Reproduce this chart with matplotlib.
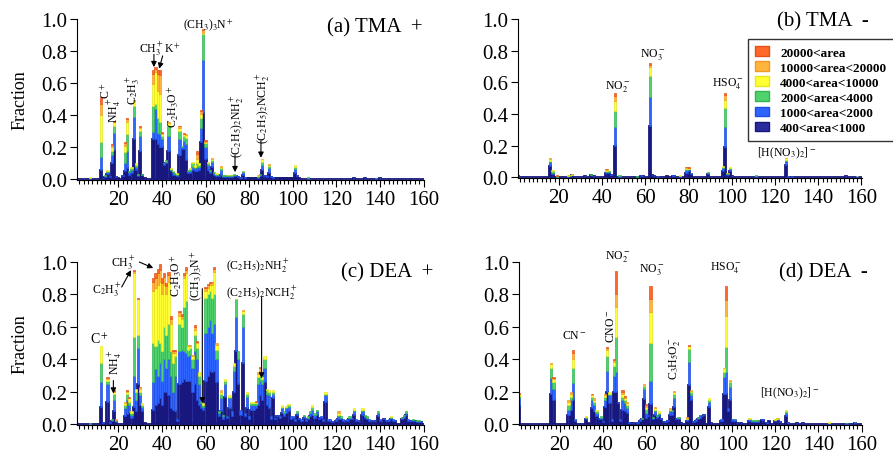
import numpy as np
import matplotlib.pyplot as plt
from matplotlib.patches import Patch
from matplotlib.ticker import FormatStrFormatter

plt.rcParams['font.family'] = ['Liberation Serif', 'DejaVu Serif']
plt.rcParams['mathtext.fontset'] = 'stix'

# area classes, smallest first (stacking order)
area_labels = ['400<area<1000', '1000<area<2000', '2000<area<4000',
               '4000<area<10000', '10000<area<20000', '20000<area']
fills = ['#2b2b9e', '#2f66ff', '#4fd26c', '#ffff33', '#ffb43c', '#ff6a2a']
edges = ['#17177e', '#1f4de0', '#33b552', '#e6e61e', '#f09a22', '#e4501a']

# each row: m/z, then cumulative fraction at the top of each area class
# (missing trailing classes are empty)
tma_pos = [
    (7, .004, .006, .008, .012), (12, .06, .14, .23, .40, .47, .515),
    (13, .008, .01), (14, .015, .02, .025), (15, .035, .045, .055, .06),
    (16, .015, .02), (17, .10, .15, .18, .20, .215, .222),
    (18, .185, .29, .335, .355, .36, .362), (19, .015, .02), (20, .008),
    (22, .02, .03), (23, .05, .10, .17, .21, .225, .235),
    (24, .07, .18, .28, .36, .375, .38), (25, .03, .045, .05),
    (26, .04, .06, .07, .075), (27, .25, .39, .46, .49, .495, .497),
    (28, .06, .08, .09, .10), (29, .02, .03, .035),
    (30, .18, .27, .30, .32, .325, .33), (31, .025, .03, .035), (32, .008),
    (36, .25, .295, .46, .594, .655, .68), (37, .25, .44, .47, .67, .69, .70),
    (38, .22, .29, .38, .55, .655, .68), (39, .20, .28, .36, .53, .65, .68),
    (40, .20, .25, .27, .285, .29, .295), (41, .09, .10, .105),
    (42, .10, .11, .12), (43, .18, .27, .33, .35, .355),
    (44, .05, .06, .065, .07), (45, .03, .045, .05, .055), (46, .03, .035, .04),
    (47, .02, .03, .035, .04), (48, .15, .25, .30, .32, .33, .335),
    (49, .19, .20, .205), (50, .19, .24, .27, .28, .285, .29),
    (51, .12, .22, .26, .275, .28), (52, .04, .05, .06),
    (53, .04, .055, .065, .07), (54, .06, .08, .10, .11), (55, .05, .07, .08, .09),
    (56, .05, .08, .10, .13, .16, .18), (57, .06, .08, .09, .10),
    (58, .23, .32, .38, .41, .425, .43), (59, .415, .745, .905, .915, .93, .935),
    (60, .13, .20, .225, .235, .24, .243), (61, .06, .09, .10, .11),
    (62, .04, .05, .06), (63, .08, .11, .12, .13, .133), (64, .03, .04, .045),
    (65, .02, .03, .035, .04), (66, .02, .03), (67, .03, .06, .07, .08, .085),
    (68, .015, .02, .025), (69, .015, .02, .025), (70, .015, .02, .025, .03),
    (71, .015, .02, .025, .03), (72, .015, .02, .025, .03), (73, .02, .03, .035),
    (74, .02, .025, .03), (75, .015, .02), (76, .01, .015),
    (77, .03, .045, .05, .055), (78, .01, .015), (79, .01), (80, .01), (81, .01),
    (82, .01), (83, .01), (84, .01, .015, .02, .025, .03), (85, .02, .03, .035),
    (86, .06, .09, .11, .125, .13), (87, .02, .03), (88, .015, .02),
    (89, .04, .07, .085, .09, .095), (90, .015, .02), (91, .01, .015),
    (92, .008), (93, .008), (94, .008), (95, .008), (96, .008), (97, .008),
    (98, .008), (99, .008), (100, .008), (101, .04, .065, .08, .09),
    (102, .02, .025), (103, .01), (107, .005, .008, .012), (128, .008, .01),
    (133, .008, .01), (138, .005, .007, .01), (140, .008, .01),
]

tma_neg = [
    (1, .008, .01), (16, .07, .095, .105, .115, .12), (17, .02, .03, .04, .045),
    (19, .003, .005, .007, .008, .01, .012), (24, .005, .008, .01, .015),
    (25, .008, .01, .012, .015), (26, .012, .015, .018, .02, .022),
    (32, .008, .01), (35, .012, .015, .02), (36, .008, .01),
    (42, .025, .035, .04, .045, .05, .052), (43, .025, .035, .04), (44, .015, .02),
    (46, .20, .32, .42, .48, .515, .53), (48, .005, .01, .015),
    (56, .003, .005, .007), (58, .01, .015), (59, .008, .01),
    (62, .325, .505, .64, .695, .71, .725), (63, .012, .015), (64, .008, .01),
    (66, .005, .008), (70, .008), (73, .01, .015), (76, .005, .008, .01, .012),
    (79, .03, .045, .055, .06, .065, .067), (80, .04, .05, .055, .06, .062, .065),
    (81, .02, .025, .03), (89, .02, .03, .035), (96, .04, .06, .065, .07),
    (97, .19, .32, .435, .49, .52, .53), (98, .015, .02, .025, .027, .03),
    (99, .04, .055, .06, .065), (100, .008, .01), (111, .005, .01, .015),
    (125, .08, .105, .11, .12, .122), (126, .005, .008), (128, .005, .008),
    (153, .008, .01), (158, .005, .007, .008, .01),
]

dea_pos = [
    (7, .002, .004, .006), (12, .11, .26, .375, .48), (13, .01, .015),
    (15, .14, .25, .27, .28, .285, .29), (16, .01, .015), (17, .02, .025, .03),
    (18, .085, .15, .185, .20, .205, .21), (19, .015, .02, .025, .027, .03),
    (20, .005), (23, .05, .10, .12, .13, .14), (24, .065, .15, .19, .20, .205, .21),
    (25, .07, .12, .14, .16, .165, .17), (26, .04, .06, .07, .08),
    (27, .11, .30, .54, .93, .945, .95), (28, .08, .15, .20, .22),
    (29, .25, .47, .55, .77, .775, .78), (30, .12, .18, .20, .22, .23, .232),
    (31, .08, .11, .12, .13), (32, .01),
    (36, .09, .26, .50, .82, .88, .90), (37, .12, .34, .48, .84, .90, .93),
    (38, .13, .30, .52, .86, .93, .96), (39, .16, .38, .50, .88, .95, .99),
    (40, .12, .27, .45, .80, .87, .90), (41, .20, .40, .60, .86, .91, .93),
    (42, .20, .35, .55, .80, .85, .87), (43, .18, .40, .62, .88, .92, .94),
    (44, .10, .30, .45, .62, .65, .67), (45, .09, .20, .38, .44, .45, .46),
    (46, .08, .30, .42, .44, .45, .46), (47, .02, .03),
    (48, .25, .45, .62, .67, .69, .70), (49, .26, .46, .60, .65, .67, .68),
    (50, .28, .45, .72, .90, .92, .93), (51, .27, .44, .76, .93, .95, .97),
    (52, .27, .42, .46, .48, .49), (53, .27, .43, .47, .48, .49),
    (54, .20, .35, .40, .42, .43), (55, .25, .45, .55, .58, .60, .61),
    (56, .15, .40, .47, .50, .51, .515), (57, .12, .25, .30, .32),
    (58, .10, .13, .14), (59, .09, .11, .12, .13),
    (60, .27, .56, .78, .82, .84, .845), (61, .30, .60, .80, .84, .86, .865),
    (62, .33, .64, .82, .86, .87, .875), (63, .32, .56, .78, .86, .875, .88),
    (64, .33, .62, .80, .94, .96, .97), (65, .26, .40, .46, .49, .50),
    (66, .05, .07, .08), (67, .08, .16, .19, .20, .21), (68, .03, .05, .06),
    (69, .17, .25, .27, .28), (70, .04, .05), (71, .10, .16, .17, .18),
    (72, .05, .08), (73, .20, .33, .36, .38), (74, .45, .66, .77, .775),
    (75, .25, .40, .45), (76, .06, .09), (77, .38, .60, .68, .70, .705),
    (78, .05, .07), (79, .10, .17, .19, .20), (80, .03, .05),
    (81, .09, .12, .13, .14), (82, .09, .12, .13, .14),
    (83, .10, .12, .13, .135, .14, .145), (84, .12, .25, .29, .31, .32),
    (85, .18, .27, .30, .33, .345, .355), (86, .15, .25, .28, .29),
    (87, .26, .35, .40, .42), (88, .12, .19, .21, .22), (89, .10, .18, .20, .21),
    (90, .03, .05), (91, .16, .19, .20, .21), (92, .03, .04), (93, .05, .06),
    (94, .04, .05), (95, .07, .10, .11, .12), (96, .05, .07, .08),
    (97, .07, .10, .11, .115), (98, .08, .11, .12, .125), (99, .03, .05),
    (100, .04, .05), (101, .02, .03), (102, .06, .07, .08), (103, .03, .04),
    (104, .02, .03), (105, .04, .05, .06), (106, .02, .03), (107, .03, .04, .05),
    (108, .05, .07, .08), (109, .06, .09, .11, .12), (110, .04, .06, .07),
    (111, .06, .08, .09), (112, .03, .04), (113, .04, .05), (114, .02, .03),
    (115, .14, .18, .19, .20), (116, .02, .03), (117, .02, .03), (118, .015, .02),
    (120, .02, .03), (121, .03, .05, .06, .07, .08), (122, .03, .04, .05),
    (123, .02, .03), (125, .02, .03), (126, .03, .04, .05), (127, .03, .04),
    (128, .06, .08, .09, .10), (129, .02, .03), (130, .02, .025),
    (132, .06, .08, .09, .10), (133, .04, .05, .06), (134, .03, .04, .05),
    (135, .02, .03), (137, .02, .025), (139, .05, .07, .08), (140, .02, .03),
    (142, .03, .04), (143, .02, .025), (144, .02, .03), (145, .03, .04, .045, .05),
    (146, .02, .03), (147, .02, .025), (150, .03, .04, .045), (151, .04, .05, .06),
    (152, .06, .07, .08), (153, .02, .03), (154, .02, .025), (155, .02, .025, .03),
    (156, .02, .025), (157, .015, .02, .025), (158, .015, .02, .025),
    (159, .015, .02),
]

dea_neg = [
    (1, .115, .16, .175, .185, .19, .195), (16, .185, .285, .35, .37, .38),
    (17, .15, .22, .26, .28, .285, .29), (24, .06, .09, .12, .14, .15),
    (25, .09, .15, .17, .19, .20), (26, .15, .255, .35, .405, .44, .455),
    (27, .02, .03, .035), (32, .03, .04, .045, .05), (33, .01),
    (35, .10, .15, .17, .18, .185, .19), (36, .08, .12, .14, .15, .16),
    (37, .05, .07, .08, .09), (38, .03, .04), (39, .03, .04, .05), (40, .015, .02),
    (41, .11, .15, .17, .18, .19), (42, .20, .33, .42, .46, .47, .475),
    (43, .13, .18, .19, .20), (44, .02, .03), (45, .20, .30, .36, .385, .395, .40),
    (46, .20, .32, .54, .72, .80, .947), (47, .13, .14), (48, .02, .03),
    (49, .09, .15, .17, .19, .20, .21), (50, .08, .13, .15, .165, .17, .175),
    (51, .07, .10, .12, .13, .14), (52, .01, .015), (53, .008, .01),
    (54, .008, .01), (56, .01, .015), (57, .02, .03), (58, .03, .035, .04),
    (59, .155, .215, .235, .245, .25), (60, .04, .07, .095, .11, .12, .125),
    (61, .05, .06), (62, .125, .265, .50, .69, .77, .85), (63, .03, .04, .045),
    (64, .06, .08, .09, .10, .105), (65, .04, .05, .06), (66, .05, .065, .07, .08),
    (67, .03, .04), (69, .015, .02), (70, .02, .025), (71, .06, .08, .09, .095, .10),
    (72, .06, .08, .09), (73, .105, .16, .19, .20, .205), (74, .03, .04),
    (75, .03, .04, .045), (76, .008, .01), (79, .02, .03, .035, .04, .045),
    (80, .245, .385, .465, .48, .485, .49), (81, .15, .18, .20, .205, .21),
    (82, .015, .02), (83, .02, .03), (84, .03, .04, .045), (85, .04, .055, .06),
    (86, .05, .06), (87, .055, .065), (89, .11, .14, .15, .16), (90, .008, .01),
    (95, .02, .03), (96, .19, .29, .325, .345, .35),
    (97, .19, .323, .476, .67, .763, .855), (98, .08, .10),
    (99, .15, .23, .26, .27, .275), (100, .02, .03), (101, .02, .03, .035),
    (102, .008, .01), (104, .008, .01), (108, .02, .03, .035, .04),
    (109, .015, .02, .025), (110, .015, .02, .025), (111, .015, .02, .025),
    (112, .015, .02, .025), (113, .02), (114, .025, .03), (116, .01, .015),
    (117, .02), (120, .02, .025, .028, .03), (121, .025, .03, .035, .038, .04),
    (122, .015, .02), (125, .05, .07, .08, .09), (126, .01, .015),
    (130, .008, .01), (133, .008, .01), (145, .005, .008, .01, .012),
    (153, .005, .008, .01), (157, .008, .012, .015),
]

mz_all = np.arange(1, 161)


def stack(rows):
    cum = np.zeros((len(mz_all), 6))
    for r in rows:
        tops = list(r[1:]) + [r[-1]] * (7 - len(r))
        cum[r[0] - 1] = tops
    return cum


def draw_spectrum(ax, rows):
    cum = stack(rows)
    prev = np.zeros(len(mz_all))
    for k in range(6):
        h = cum[:, k] - prev
        # the lowest class is drawn everywhere so empty m/z leave a baseline
        keep = np.ones(len(mz_all), bool) if k == 0 else h > 0
        ax.bar(mz_all[keep], h[keep], bottom=prev[keep], width=1.0,
               color=fills[k], edgecolor=edges[k],
               linewidth=1.3 if k == 0 else 0.5)
        prev = cum[:, k]


def style(ax):
    ax.set_xlim(1, 160.2)
    ax.set_ylim(-0.004, 1.0)
    ax.spines['top'].set_visible(False)
    ax.spines['right'].set_visible(False)
    ax.set_xticks(range(20, 161, 20))
    ax.set_xticks(range(2, 161, 2), minor=True)
    ax.set_yticks(np.arange(0, 1.01, 0.2))
    ax.yaxis.set_major_formatter(FormatStrFormatter('%.1f'))
    ax.tick_params(axis='both', which='major', labelsize=15, length=5,
                   width=0.8, pad=2)
    ax.tick_params(axis='x', which='minor', length=3, width=0.8)


def label(ax, x, y, s, rot=0, size=8.5):
    ax.text(x, y, s, rotation=rot, ha='center', va='center', fontsize=size)


def arrow(ax, tail, tip):
    ax.annotate('', xy=tip, xytext=tail,
                arrowprops=dict(arrowstyle='-|>', color='black', lw=0.8,
                                mutation_scale=8, shrinkA=0, shrinkB=0))


fig = plt.figure(figsize=(8.93, 4.6), dpi=100)
ax_a = fig.add_axes([0.0862, 0.6065, 0.3886, 0.35])
ax_b = fig.add_axes([0.5800, 0.6109, 0.3852, 0.3457])
ax_c = fig.add_axes([0.0862, 0.0739, 0.3886, 0.3543])
ax_d = fig.add_axes([0.5812, 0.0739, 0.3841, 0.3543])

for ax, rows in [(ax_a, tma_pos), (ax_b, tma_neg), (ax_c, dea_pos), (ax_d, dea_neg)]:
    draw_spectrum(ax, rows)
    style(ax)

for ax in (ax_a, ax_c):
    ax.set_ylabel('Fraction', fontsize=13, labelpad=9)

# panel titles
ax_a.text(0.997, 0.95, '(a) TMA  +', transform=ax_a.transAxes, ha='right', va='center', fontsize=15)
ax_b.text(1.02, 0.99, '(b) TMA  -', transform=ax_b.transAxes, ha='right', va='center', fontsize=15)
ax_c.text(1.026, 0.94, '(c) DEA  +', transform=ax_c.transAxes, ha='right', va='center', fontsize=15)
ax_d.text(1.017, 0.94, '(d) DEA  -', transform=ax_d.transAxes, ha='right', va='center', fontsize=15)

# (a) TMA positive ions
label(ax_a, 14.3, 0.56, r'C$^+$', rot=90)
label(ax_a, 18.1, 0.44, r'NH$_4^+$', rot=90)
label(ax_a, 26.8, 0.56, r'C$_2$H$_3^+$', rot=90)
label(ax_a, 45.2, 0.46, r'C$_2$H$_3$O$^+$', rot=90)
label(ax_a, 61.2, 0.965, r'(CH$_3$)$_3$N$^+$')
label(ax_a, 39.0, 0.82, r'CH$_3^+$K$^+$')
label(ax_a, 74.5, 0.34, r'(C$_2$H$_5$)$_2$NH$_2^+$', rot=90)
label(ax_a, 86.5, 0.45, r'(C$_2$H$_5$)$_2$NCH$_2^+$', rot=90)
arrow(ax_a, (36.3, 0.78), (36.3, 0.70))
arrow(ax_a, (40.3, 0.77), (38.7, 0.69))
arrow(ax_a, (73.5, 0.15), (73.5, 0.045))
arrow(ax_a, (85.4, 0.24), (85.4, 0.135))

# (b) TMA negative ions
label(ax_b, 47.4, 0.577, r'NO$_2^-$')
label(ax_b, 63.3, 0.78, r'NO$_3^-$')
label(ax_b, 98.2, 0.60, r'HSO$_4^-$')
label(ax_b, 125.5, 0.157, r'[H(NO$_3$)$_2$]$^-$')

# (c) DEA positive ions
label(ax_c, 11.5, 0.53, r'C$^+$', size=10)
label(ax_c, 18.4, 0.39, r'NH$_4^+$', rot=90)
label(ax_c, 14.6, 0.836, r'C$_2$H$_3^+$')
label(ax_c, 22.5, 1.0, r'CH$_3^+$')
label(ax_c, 46.7, 0.92, r'C$_2$H$_3$O$^+$', rot=90)
label(ax_c, 55.9, 0.92, r'(CH$_3$)$_3$N$^+$', rot=90)
label(ax_c, 84.2, 0.98, r'(C$_2$H$_5$)$_2$NH$_2^+$')
label(ax_c, 85.7, 0.815, r'(C$_2$H$_5$)$_2$NCH$_2^+$')
arrow(ax_c, (17.7, 0.27), (17.7, 0.19))
arrow(ax_c, (21.5, 0.846), (25.8, 0.95))
arrow(ax_c, (29.6, 1.0), (36.0, 0.963))
arrow(ax_c, (58.5, 0.836), (58.5, 0.13))
arrow(ax_c, (85.7, 0.785), (85.7, 0.283))

# (d) DEA negative ions
label(ax_d, 26.5, 0.553, r'CN$^-$')
label(ax_d, 43.5, 0.61, r'CNO$^-$', rot=90)
label(ax_d, 46.8, 1.04, r'NO$_2^-$')
label(ax_d, 62.5, 0.96, r'NO$_3^-$')
label(ax_d, 73.3, 0.41, r'C$_3$H$_5$O$_2^-$', rot=90)
label(ax_d, 97.3, 0.97, r'HSO$_4^-$')
label(ax_d, 126.7, 0.20, r'[H(NO$_3$)$_2$]$^-$')

handles = [Patch(facecolor=fills[k], edgecolor=edges[k]) for k in range(5, -1, -1)]
leg = ax_b.legend(handles, area_labels[::-1], loc='upper left',
                  bbox_to_anchor=(748 / 893, 1 - 40 / 460),
                  bbox_transform=fig.transFigure, frameon=True, fancybox=False,
                  borderaxespad=0, handlelength=1.05, handleheight=0.75,
                  labelspacing=0.2, handletextpad=0.85, borderpad=0.55,
                  prop={'size': 9.5, 'weight': 'bold'})
leg.get_frame().set_edgecolor('black')
leg.get_frame().set_linewidth(1.0)

fig.savefig('out.png', dpi=100)
